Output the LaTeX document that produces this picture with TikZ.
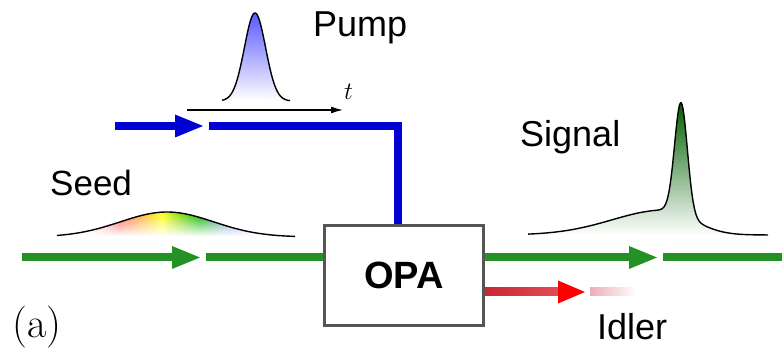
\documentclass[tikz,border=0pt]{standalone}
\usepackage{fontspec}
\newfontfamily\lsans{Liberation Sans}
\usetikzlibrary{arrows.meta,fadings,shadings}
\definecolor{lgreen}{RGB}{35,145,35}
\definecolor{lblue}{RGB}{0,0,210}
\definecolor{boxgray}{RGB}{85,85,85}
\definecolor{idlerA}{RGB}{200,40,50}
\definecolor{idlerB}{RGB}{225,75,85}
\definecolor{idlerC}{RGB}{235,175,185}
\definecolor{sigtop}{RGB}{0,95,0}
\definecolor{sigmid}{RGB}{45,165,45}
\pgfdeclarehorizontalshading{seedrainbow}{100bp}{color(0bp)=(white); color(31bp)=(white); color(38bp)=(red!65); color(47bp)=(yellow!90); color(55bp)=(green!70!black); color(62bp)=(blue!45); color(69bp)=(white); color(100bp)=(white)}
\tikzfading[name=fadedown, top color=transparent!0, bottom color=transparent!100]
\tikzset{
  beam/.style={line width=8pt},
  lbl/.style={anchor=base west, inner sep=0pt, font=\lsans\fontsize{36}{40}\selectfont},
  pulse/.style={black, line width=1.4pt},
}
\begin{document}
\begin{tikzpicture}[x=1pt,y=-1pt]
\useasboundingbox (0,0) rectangle (782,352);

% OPA box
\node[draw=boxgray, fill=white, line width=3pt, minimum width=159pt, minimum height=100pt, inner sep=0pt,
      font=\lsans\bfseries\fontsize{38}{42}\selectfont] (opa) at (404,275.5) {OPA};

% coordinates
\coordinate (pumpstart) at (115,126);
\coordinate (pumpback) at (175,126);
\coordinate (pumptip) at (203,126);
\coordinate (pumpres) at (209,126);
\coordinate (pumpin) at ([xshift=-6pt]opa.north);

\coordinate (seedstart) at (22,257.5);
\coordinate (seedback) at (172,257.5);
\coordinate (seedtip) at (200,257.5);
\coordinate (seedres) at (206,257.5);

\coordinate (sigback) at (629,257.5);
\coordinate (sigtip) at (657,257.5);
\coordinate (sigres) at (663,257.5);
\coordinate (sigend) at (782,257.5);

\coordinate (idlback) at (558,292);
\coordinate (idltip) at (585,292);
\coordinate (idlres) at (590,292);
\coordinate (idlend) at (637,292);

% pump beam
\draw[beam, lblue] (pumpstart) -- (pumpback);
\fill[lblue] (pumptip) -- ([yshift=-11.5pt]pumpback) -- ([yshift=11.5pt]pumpback) -- cycle;
\draw[beam, lblue] (pumpres) -| (pumpin);

% seed beam
\draw[beam, lgreen] (seedstart) -- (seedback);
\fill[lgreen] (seedtip) -- ([yshift=-11.5pt]seedback) -- ([yshift=11.5pt]seedback) -- cycle;
\draw[beam, lgreen] (seedres) -- (seedres -| opa.west);

% signal beam
\draw[beam, lgreen] (sigback -| opa.east) -- (sigback);
\fill[lgreen] (sigtip) -- ([yshift=-11.5pt]sigback) -- ([yshift=11.5pt]sigback) -- cycle;
\draw[beam, lgreen] (sigres) -- (sigend);

% idler beam
\shade[left color=idlerA, right color=idlerB] ([yshift=-4pt]idlback -| opa.east) rectangle ([yshift=4pt]idlback);
\fill[red] (idltip) -- ([yshift=-11.5pt]idlback) -- ([yshift=11.5pt]idlback) -- cycle;
\shade[left color=idlerC, right color=white] ([yshift=-4pt]idlres) rectangle ([yshift=4pt]idlend);

% pump pulse and time axis
\coordinate (tax0) at (187,110);
\coordinate (tax1) at (343,110);
\draw[line width=1.3pt, -{Latex[length=12pt,width=7pt]}] (tax0) -- (tax1);
\shade[top color=blue!65, bottom color=white] plot[domain=222:290, samples=90] (\x,{101-88*exp(-((\x-255)/15)^2)}) -- cycle;
\draw[pulse] plot[domain=222:290, samples=90] (\x,{101-88*exp(-((\x-255)/15)^2)});
\node[anchor=base west, inner sep=0pt, font=\fontsize{28}{30}\selectfont] (tlbl) at (344,100) {$t$};

% seed pulse
\shade[shading=seedrainbow, path fading=fadedown] plot[domain=57:295, samples=120] (\x,{237-25*exp(-((\x-167)/66)^2)}) -- cycle;
\draw[pulse] plot[domain=57:295, samples=120] (\x,{237-25*exp(-((\x-167)/66)^2)});

% signal pulse
\shade[top color=sigtop, middle color=sigmid, bottom color=white]
  plot[domain=528:768, samples=300] (\x,{235-25*exp(-((\x-665)/(\x<665?75:40))^2)-111*exp(-((\x-681)/9)^2)}) -- cycle;
\draw[pulse] plot[domain=528:768, samples=300] (\x,{235-25*exp(-((\x-665)/(\x<665?75:40))^2)-111*exp(-((\x-681)/9)^2)});

% labels
\node[lbl] (pumplbl) at (313,37) {Pump};
\node[lbl] (siglbl) at (520,147) {Signal};
\node[lbl, font=\lsans\fontsize{35}{40}\selectfont] (seedlbl) at (50,196) {Seed};
\node[lbl] (idllbl) at (597,340) {Idler};
\node[anchor=base west, inner sep=0pt, font=\fontsize{42}{46}\selectfont] (alabel) at (12,338) {(a)};
\end{tikzpicture}
\end{document}
